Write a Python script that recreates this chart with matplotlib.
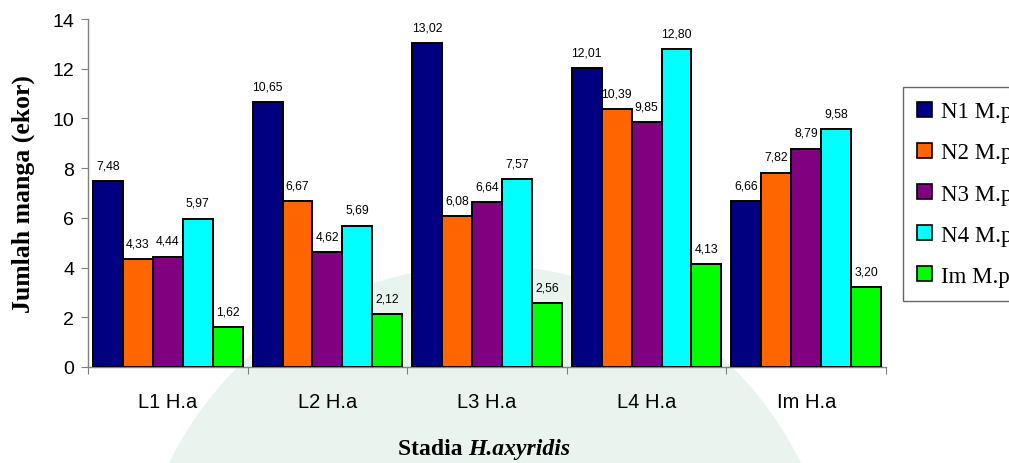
import matplotlib
matplotlib.use("Agg")
import matplotlib.pyplot as plt
import numpy as np
from matplotlib.patches import Circle, Patch

categories = ["L1 H.a", "L2 H.a", "L3 H.a", "L4 H.a", "Im H.a"]
series_names = ["N1 M.p", "N2 M.p", "N3 M.p", "N4 M.p", "Im M.p"]
n1 = [7.48, 10.65, 13.02, 12.01, 6.66]
n2 = [4.33, 6.67, 6.08, 10.39, 7.82]
n3 = [4.44, 4.62, 6.64, 9.85, 8.79]
n4 = [5.97, 5.69, 7.57, 12.80, 9.58]
im = [1.62, 2.12, 2.56, 4.13, 3.20]
series = [n1, n2, n3, n4, im]
colors = ["#000080", "#FF6600", "#800080", "#00FFFF", "#00FF00"]

fig = plt.figure(figsize=(10.09, 4.64), dpi=100)
ax = fig.add_axes([88/1009, 1-368/464, (886-88)/1009, (368-20)/464])
ax.set_facecolor("none")

x = np.arange(len(categories))
bw = 0.1875
for j, (vals, c) in enumerate(zip(series, colors)):
    xs = x + (j - 2) * bw
    ax.bar(xs, vals, width=bw, color=c, edgecolor="black", linewidth=1.4, zorder=3)
    for xi, v in zip(xs, vals):
        ax.annotate(f"{v:.2f}".replace(".", ","), (xi, v), xytext=(0, 7),
                    textcoords="offset points", ha="center", va="bottom",
                    fontsize=8.8, family="Liberation Sans")

ax.set_xlim(-0.5, len(categories) - 0.5)
ax.set_ylim(0, 14)
ax.set_yticks(range(0, 15, 2))
ax.set_yticklabels([str(v) for v in range(0, 15, 2)], fontsize=14, family="Liberation Sans")
ax.set_xticks(np.arange(len(categories) + 1) - 0.5)
ax.set_xticklabels([])
ax.set_xticks(x, minor=True)
ax.set_xticklabels(categories, minor=True, fontsize=14.5, family="Liberation Sans")
ax.tick_params(axis="x", which="minor", length=0, pad=18)
ax.tick_params(axis="x", which="major", length=5, color="#808080")
ax.tick_params(axis="y", length=5, color="#808080", pad=5)
for s in ["top", "right"]:
    ax.spines[s].set_visible(False)
for s in ["left", "bottom"]:
    ax.spines[s].set_color("#808080")
    ax.spines[s].set_linewidth(1.0)

ax.set_ylabel("Jumlah manga (ekor)", fontsize=18.5, fontweight="bold",
              family="Liberation Serif")
ax.yaxis.set_label_coords(-0.066, 0.5)

# x label: "Stadia " bold + "H.axyridis" bold italic
fig.canvas.draw()
r = fig.canvas.get_renderer()
t1 = fig.text(0, 1-450/464, "Stadia ", fontsize=17, fontweight="bold",
              family="Liberation Serif", va="center", ha="left")
t2 = fig.text(0, 1-450/464, "H.axyridis", fontsize=17, fontweight="bold", style="italic",
              family="Liberation Serif", va="center", ha="left")
w1 = t1.get_window_extent(r).width
w2 = t2.get_window_extent(r).width
cx = 484
x0 = cx - (w1 + w2) / 2
t1.set_x(x0 / 1009)
t2.set_x((x0 + w1) / 1009)

handles = [Patch(facecolor=c, edgecolor="black", linewidth=1.2) for c in colors]
leg = fig.legend(handles, series_names, loc="upper left",
                 bbox_to_anchor=(903/1009, 1-88/464), frameon=True, fancybox=False,
                 prop={"family": "Liberation Serif", "size": 16.5},
                 handlelength=0.65, handleheight=0.65, handletextpad=0.4,
                 labelspacing=0.88, borderpad=0.62, borderaxespad=0)
leg.get_frame().set_edgecolor("#404040")
leg.get_frame().set_linewidth(1.0)

# faint watermark tint behind the chart
circ = Circle((485, 464-617), 351, transform=None, facecolor=(0.2, 0.6, 0.4),
              alpha=0.10, edgecolor="none", zorder=-5)
fig.patches.append(circ)

fig.savefig("out.png", dpi=100)
